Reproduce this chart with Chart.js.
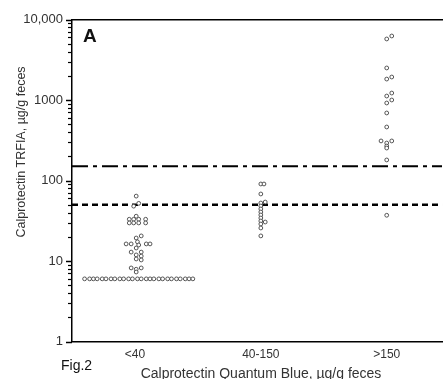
<!DOCTYPE html>
<html>
<head>
<meta charset="utf-8">
<script src="https://cdn.jsdelivr.net/npm/chart.js@4.4.0/dist/chart.umd.min.js"></script>
<style>
  html, body { margin: 0; padding: 0; background: #fff; }
  #wrap { width: 447px; height: 379px; position: relative; }
</style>
</head>
<body>
<div id="wrap"><canvas id="c"></canvas></div>
<script>
/* categories on the x axis (Quantum Blue groups) */
var CATEGORIES = ['<40', '40-150', '>150'];
var CAT_POS = [1, 2, 3];

/* y axis (log) labelled ticks + minor tick mantissas */
var Y_TICKS = [1, 10, 100, 1000, 10000];
var Y_TICK_LABELS = ['1', '10', '100', '1000', '10,000'];
var Y_MANTISSA = [1, 2, 3, 4, 5, 6, 7, 8, 9];

/* cut-off lines, ug/g */
var CUTOFFS = [50, 150];

var X_TITLE = 'Calprotectin Quantum Blue, \u00b5g/g feces';
var Y_TITLE = 'Calprotectin TRFIA, \u00b5g/g feces';

/* <40 group: x = jittered position, y = TRFIA value */
var lowX = [0.60, 0.64, 0.67, 0.70, 0.74, 0.77, 0.81, 0.84, 0.88, 0.91, 0.95, 0.98, 1.02,
            1.05, 1.09, 1.12, 1.15, 1.19, 1.22, 1.26, 1.29, 1.33, 1.36, 1.40, 1.43, 1.46,
            1.01, 0.99, 1.03,
            1.01, 0.955, 0.99, 1.03, 1.085,
            0.955, 0.99, 1.03, 1.085,
            1.05, 1.01, 1.02, 0.93, 0.97, 1.03, 1.09, 1.12,
            1.01, 0.97, 1.05, 1.01, 1.05, 1.01, 1.05,
            0.97, 1.01, 1.05, 1.01];
var lowY = [6, 6, 6, 6, 6, 6, 6, 6, 6, 6, 6, 6, 6,
            6, 6, 6, 6, 6, 6, 6, 6, 6, 6, 6, 6, 6,
            64, 48, 52,
            36, 33, 33, 33, 33,
            29.7, 29.7, 29.7, 29.7,
            20.5, 19.3, 17.3, 16.3, 16.3, 15.8, 16.3, 16.3,
            14.5, 12.9, 12.9, 11.9, 11.5, 10.6, 10.3,
            8.2, 7.9, 8.2, 7.3];

/* 40-150 group */
var midX = [2.00, 2.025, 2.00, 2.00, 2.035, 2.00, 2.00, 2.00, 2.00, 2.00, 2.00, 2.00, 2.00, 2.035, 2.00];
var midY = [90.5, 90.5, 68, 52.5, 54, 48.2, 44.3, 40.6, 37.3, 34.2, 31.4, 28.8, 25.7, 30.5, 20.5];

/* >150 group */
var highX = [3.00, 3.04, 3.00, 3.00, 3.04, 3.00, 3.04, 3.00, 3.04, 3.00, 3.00, 2.955, 3.00, 3.04, 3.00, 3.00, 3.00, 3.00];
var highY = [5730, 6240, 2500, 1820, 1930, 1120, 1220, 918, 1000, 690, 462, 310, 292, 310, 268, 253, 180, 37];

var X_MIN = 0.5, X_MAX = 3.44;
var FONT = '"Liberation Sans", Arial, sans-serif';

function pts(xs, ys) {
  return xs.map(function (x, i) { return { x: x, y: ys[i] }; });
}
function cutLine(v) {
  return [{ x: X_MIN, y: v }, { x: X_MAX, y: v }];
}

var POINT = { pointRadius: 1.9, pointBorderWidth: 0.9, pointBorderColor: '#444', pointBackgroundColor: '#fff', showLine: false, order: 0 };

/* ── y tick marks (outside, short), from the y scale's own ticks ── */
var yTickMarks = {
  id: 'yTickMarks',
  afterDraw: function (chart) {
    var s = chart.scales.y, ctx = chart.ctx, x = chart.chartArea.left;
    ctx.save();
    ctx.strokeStyle = '#000';
    s.ticks.forEach(function (t) {
      var y = Math.round(s.getPixelForValue(t.value)) + 0.5;
      ctx.lineWidth = t.major ? 1.5 : 1.2;
      ctx.beginPath();
      ctx.moveTo(x - (t.major ? 6 : 4), y);
      ctx.lineTo(x, y);
      ctx.stroke();
    });
    ctx.restore();
  }
};

/* ── axis titles and panel labels ── */
var overlay = {
  id: 'overlay',
  afterDraw: function (chart) {
    var ctx = chart.ctx;
    ctx.save();
    ctx.fillStyle = '#111';
    ctx.textBaseline = 'alphabetic';
    ctx.textAlign = 'left';
    ctx.font = 'bold 19px ' + FONT;
    ctx.fillText('A', 83, 42);
    ctx.font = '14px ' + FONT;
    ctx.fillText('Fig.2', 61, 370);
    ctx.fillStyle = '#333';
    ctx.textAlign = 'center';
    ctx.fillText(X_TITLE, 261, 378);
    ctx.translate(24.5, 152);
    ctx.rotate(-Math.PI / 2);
    ctx.font = '12.5px ' + FONT;
    ctx.fillText(Y_TITLE, 0, 0);
    ctx.restore();
  }
};

new Chart(document.getElementById('c'), {
  type: 'scatter',
  data: {
    datasets: [
      Object.assign({ label: CATEGORIES[0], data: pts(lowX, lowY) }, POINT),
      Object.assign({ label: CATEGORIES[1], data: pts(midX, midY) }, POINT),
      Object.assign({ label: CATEGORIES[2], data: pts(highX, highY) }, POINT),
      { label: 'cut-off ' + CUTOFFS[1], data: cutLine(CUTOFFS[1]), showLine: true, pointRadius: 0,
        borderColor: '#000', borderWidth: 2, borderDash: [16, 5, 4, 5], order: 1 },
      { label: 'cut-off ' + CUTOFFS[0], data: cutLine(CUTOFFS[0]), showLine: true, pointRadius: 0,
        borderColor: '#000', borderWidth: 2.4, borderDash: [6, 4], order: 1 }
    ]
  },
  options: {
    responsive: true, maintainAspectRatio: false, animation: false, devicePixelRatio: 1,
    layout: { padding: 0 },
    plugins: { legend: { display: false }, tooltip: { enabled: false } },
    scales: {
      x: {
        type: 'linear', position: 'bottom', min: X_MIN, max: X_MAX,
        grid: { display: false, drawTicks: false },
        border: { display: true, color: '#000', width: 1.5 },
        afterBuildTicks: function (s) { s.ticks = CAT_POS.map(function (v) { return { value: v }; }); },
        ticks: {
          autoSkip: false, maxRotation: 0, padding: 6, color: '#333',
          font: { family: FONT, size: 12 },
          callback: function (v) { var i = CAT_POS.indexOf(v); return i < 0 ? '' : CATEGORIES[i]; }
        },
        afterFit: function (s) { s.height = 37.5; }
      },
      xTop: {
        type: 'linear', position: 'top', min: X_MIN, max: X_MAX,
        grid: { display: false, drawTicks: false },
        border: { display: true, color: '#000', width: 1.5 },
        ticks: { display: false },
        afterFit: function (s) { s.height = 19.5; }
      },
      y: {
        type: 'logarithmic', min: 1, max: 10000,
        grid: { display: false, drawTicks: false },
        border: { display: true, color: '#000', width: 1.5 },
        afterBuildTicks: function (s) {
          var t = [];
          Y_TICKS.forEach(function (p, k) {
            Y_MANTISSA.forEach(function (m) {
              if (k === Y_TICKS.length - 1 && m > 1) return;
              t.push({ value: p * m, major: m === 1 });
            });
          });
          s.ticks = t;
        },
        ticks: {
          autoSkip: false, padding: 9, color: '#333',
          font: { family: FONT, size: 13 },
          callback: function (v) { var i = Y_TICKS.indexOf(v); return i < 0 ? '' : Y_TICK_LABELS[i]; }
        },
        afterFit: function (s) { s.width = 72; }
      }
    }
  },
  plugins: [yTickMarks, overlay]
});
</script>
</body>
</html>
